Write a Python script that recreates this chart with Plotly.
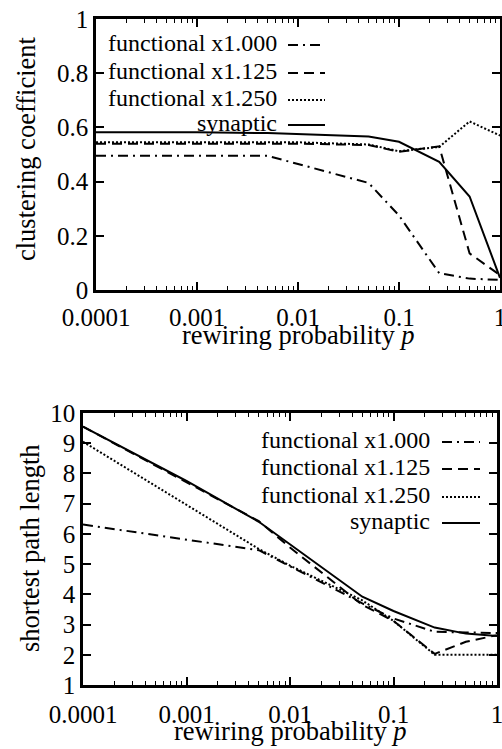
import plotly.graph_objects as go

# ---------------- data ----------------
p_vals = [0.0001, 0.001, 0.005, 0.01, 0.05, 0.1, 0.25, 0.5, 1.0]

series_names = ["functional x1.000", "functional x1.125", "functional x1.250", "synaptic"]

cc_f1000 = [0.495, 0.495, 0.495, 0.465, 0.395, 0.275, 0.062, 0.042, 0.037]
cc_f1125 = [0.540, 0.540, 0.540, 0.540, 0.535, 0.510, 0.530, 0.135, 0.055]
cc_f1250 = [0.545, 0.545, 0.545, 0.545, 0.537, 0.512, 0.528, 0.622, 0.570]
cc_syn = [0.582, 0.582, 0.579, 0.575, 0.566, 0.547, 0.473, 0.345, 0.045]

pl_f1000 = [6.31, 5.81, 5.46, 4.93, 3.70, 3.20, 2.76, 2.74, 2.72]
pl_f1125 = [9.55, 7.72, 6.42, 5.55, 3.65, 3.12, 2.03, 2.43, 2.65]
pl_f1250 = [9.05, 6.95, 5.50, 4.95, 3.80, 3.12, 2.00, 2.00, 2.00]
pl_syn = [9.55, 7.75, 6.40, 5.66, 3.92, 3.45, 2.90, 2.70, 2.62]

x_tick_vals = [0.0001, 0.001, 0.01, 0.1, 1]
x_tick_text = ["0.0001", "0.001", "0.01", "0.1", "1"]
cc_tick_vals = [0, 0.2, 0.4, 0.6, 0.8, 1]
cc_tick_text = ["0", "0.2", "0.4", "0.6", "0.8", "1"]
pl_tick_vals = [1, 2, 3, 4, 5, 6, 7, 8, 9, 10]

# ---------------- style ----------------
FONT = "Liberation Serif"
TICK_SIZE = 25
TITLE_SIZE = 26.5
LEG_SIZE = 24
dashes = ["10px,5px,2px,5px", "10px,6px", "2px,2px", "solid"]
LW = 2

W, H = 502, 749
top_x = [96 / W, 500 / W]
top_y = [1 - 290 / H, 1 - 19 / H]
bot_x = [83 / W, 497 / W]
bot_y = [1 - 685 / H, 1 - 413 / H]

fig = go.Figure()

cc_data = [cc_f1000, cc_f1125, cc_f1250, cc_syn]
pl_data = [pl_f1000, pl_f1125, pl_f1250, pl_syn]

for name, vals, d in zip(series_names, cc_data, dashes):
    fig.add_trace(go.Scatter(x=p_vals, y=vals, mode="lines", name=name,
                             line=dict(color="black", width=LW, dash=d),
                             showlegend=False, xaxis="x", yaxis="y"))
for name, vals, d in zip(series_names, pl_data, dashes):
    fig.add_trace(go.Scatter(x=p_vals, y=vals, mode="lines", name=name,
                             line=dict(color="black", width=LW, dash=d),
                             showlegend=False, xaxis="x2", yaxis="y2"))

axis_common = dict(showline=True, linecolor="black", linewidth=2.5, mirror="ticks",
                   ticks="inside", ticklen=8, tickwidth=1.5, tickcolor="black",
                   showgrid=False, zeroline=False, ticklabeloverflow="allow",
                   automargin=False,
                   tickfont=dict(family=FONT, size=TICK_SIZE, color="black"))

xminor = dict(ticks="inside", ticklen=4, tickwidth=1, tickcolor="black", dtick="D1", showgrid=False)

fig.update_layout(
    width=W, height=H,
    margin=dict(l=0, r=0, t=0, b=0, pad=0),
    paper_bgcolor="white", plot_bgcolor="white",
    xaxis=dict(domain=top_x, type="log", range=[-4, 0], anchor="y",
               tickmode="array", tickvals=x_tick_vals, ticktext=x_tick_text,
               minor=xminor, ticklabelstandoff=3, **axis_common),
    yaxis=dict(domain=top_y, range=[0, 1], anchor="x",
               tickmode="array", tickvals=cc_tick_vals, ticktext=cc_tick_text,
               ticklabelstandoff=0, **axis_common),
    xaxis2=dict(domain=bot_x, type="log", range=[-4, 0], anchor="y2",
                tickmode="array", tickvals=x_tick_vals, ticktext=x_tick_text,
                minor=xminor, ticklabelstandoff=5, **axis_common),
    yaxis2=dict(domain=bot_y, range=[1, 10], anchor="x2",
                tickmode="array", tickvals=pl_tick_vals,
                ticklabelstandoff=0, **axis_common),
)

# axis titles
def title_ann(text, x, y, angle=0):
    fig.add_annotation(text=text, x=x, y=y, xref="paper", yref="paper",
                       showarrow=False, textangle=angle, xanchor="center", yanchor="middle",
                       font=dict(family=FONT, size=TITLE_SIZE, color="black"))

title_ann("rewiring probability <i>p</i>", 298 / W, 1 - 335 / H)
title_ann("rewiring probability <i>p</i>", 290 / W, 1 - 731 / H)
title_ann("clustering coefficient", 26 / W, 1 - 149 / H, -90)
title_ann("shortest path length", 30 / W, 1 - 548 / H, -90)

# gnuplot-style legends: right-aligned text, sample line to the right
def legend(text_right, sample_x0, sample_x1, rows):
    for name, d, yc in zip(series_names, dashes, rows):
        fig.add_annotation(text=name, x=text_right / W, y=1 - yc / H, xref="paper", yref="paper",
                           showarrow=False, xanchor="right", yanchor="middle",
                           font=dict(family=FONT, size=LEG_SIZE, color="black"))
        fig.add_shape(type="line", xref="paper", yref="paper",
                      x0=sample_x0 / W, x1=sample_x1 / W, y0=1 - (yc + 2) / H, y1=1 - (yc + 2) / H,
                      line=dict(color="black", width=LW, dash=d))

legend(279, 288, 325, [43, 71, 98, 123])
legend(432, 442, 480, [440, 467, 495, 521])

fig.write_html("out.html")
